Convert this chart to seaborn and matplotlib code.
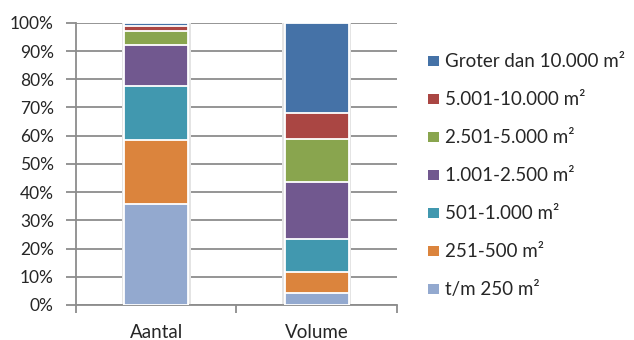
import matplotlib
matplotlib.use("Agg")
import matplotlib.pyplot as plt
from matplotlib.patches import Patch
from matplotlib.ticker import FuncFormatter, FixedLocator
import numpy as np
import pandas as pd
import seaborn as sns

# categories (x-axis)
categorieen = ["Aantal", "Volume"]

# size classes, bottom to top
klassen = ["t/m 250 m²", "251-500 m²", "501-1.000 m²", "1.001-2.500 m²",
           "2.501-5.000 m²", "5.001-10.000 m²", "Groter dan 10.000 m²"]

# shares in % per category
aantal = [35.9, 22.7, 18.9, 14.5, 5.0, 1.9, 1.1]
volume = [4.2, 7.6, 11.6, 20.2, 15.3, 9.1, 32.0]

kleuren = ["#93A9CF", "#DB843D", "#4198AF", "#71588F",
           "#89A54E", "#AA4643", "#4572A7"]

sns.set_style("white")
plt.rcParams['font.family'] = ['Lato', 'DejaVu Sans']

fig = plt.figure(figsize=(6.34, 3.4), dpi=100)
ax = fig.add_axes([0.12, 0.103, 0.506, 0.83])

# cumulative sums so the stacks can be drawn top-down
cum_a = np.cumsum(aantal)
cum_v = np.cumsum(volume)

# soft shadow behind the bars
df0 = pd.DataFrame({"cat": categorieen, "val": [cum_a[-1], cum_v[-1]]})
sns.barplot(data=df0, x="cat", y="val", order=categorieen, color="#e4e4e4",
            width=0.43, ax=ax, edgecolor="none", zorder=2)

for i in range(len(klassen) - 1, -1, -1):
    df = pd.DataFrame({"cat": categorieen, "val": [cum_a[i], cum_v[i]]})
    sns.barplot(data=df, x="cat", y="val", order=categorieen,
                color=kleuren[i], saturation=1, width=0.4, ax=ax,
                edgecolor="white", linewidth=1.3, zorder=3)

ax.set_xlim(-0.5, 1.5)
ax.set_ylim(0, 100)
ax.set_yticks(range(0, 101, 10))
ax.yaxis.set_major_formatter(FuncFormatter(lambda v, p: f"{int(v)}%"))
ax.grid(axis="y", color="#8c8c8c", linewidth=1.3, zorder=1)
ax.set_axisbelow(True)
ax.set_xlabel("")
ax.set_ylabel("")

for s in ["top", "right"]:
    ax.spines[s].set_visible(False)
for s in ["left", "bottom"]:
    ax.spines[s].set_color("#8c8c8c")
    ax.spines[s].set_linewidth(1.3)

ax.tick_params(axis="y", direction="out", length=7, width=1.3,
               color="#8c8c8c", pad=9, labelsize=12.5, left=True)
ax.tick_params(axis="x", length=0, pad=14, labelsize=13.5)
ax.xaxis.set_minor_locator(FixedLocator([-0.5, 0.5, 1.5]))
ax.tick_params(axis="x", which="minor", direction="out", length=6,
               width=1.3, color="#8c8c8c", bottom=True)

handles = [Patch(facecolor=kleuren[i], edgecolor="none", label=klassen[i])
           for i in range(len(klassen) - 1, -1, -1)]
fig.legend(handles=handles, loc="upper left", bbox_to_anchor=(0.664, 0.865),
           frameon=False, fontsize=13.5, handlelength=0.55, handleheight=0.45,
           handletextpad=0.35, labelspacing=1.12, borderaxespad=0)

fig.savefig("out.png", dpi=100)
